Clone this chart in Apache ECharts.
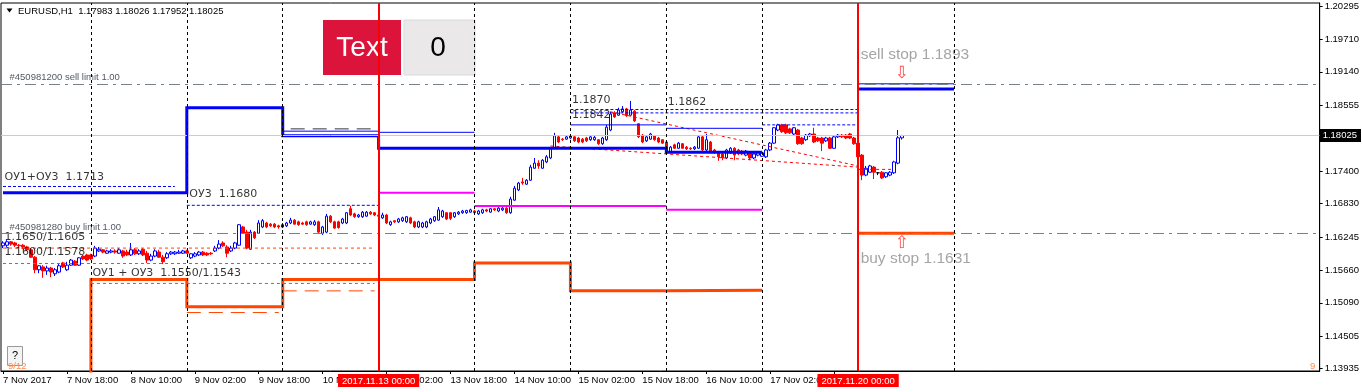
<!DOCTYPE html>
<html><head><meta charset="utf-8">
<script src="https://cdn.jsdelivr.net/npm/echarts@6/dist/echarts.min.js"></script>
<style>html,body{margin:0;padding:0;background:#fff}#c{width:1362px;height:392px}</style>
</head><body><div id="c"></div>
<script>
// ---------- DATA ----------
const BAR_SLOTS = 330; // H1 bar slots across the window (7 Nov 02:00 = 0)
const timeLabels = [[0,'7 Nov 2017'],[16,'7 Nov 18:00'],[32,'8 Nov 10:00'],[48,'9 Nov 02:00'],[64,'9 Nov 18:00'],[80,'10 Nov 10:00'],[96,'13 Nov 02:00'],[112,'13 Nov 18:00'],[128,'14 Nov 10:00'],[144,'15 Nov 02:00'],[160,'15 Nov 18:00'],[176,'16 Nov 10:00'],[192,'17 Nov 02:00'],[208,'17 Nov 18:00'],[224,'20 Nov 10:00']];
const yTicks = [1.13935,1.14505,1.15090,1.15660,1.16245,1.16830,1.17400,1.17975,1.18555,1.19140,1.19710,1.20295];
const daySeparators = [22,46,70,118,142,166,190,238];
const weekStarts = [[94,'2017.11.13 00:00'],[214,'2017.11.20 00:00']];
const bidPrice = 1.18025;
const sellLimit = 1.1893, buyLimit = 1.1631;
const dojiIndex = [219];
// [open, close, low, high]
const ohlc = [
// 7 Nov
[1.1609,1.1614,1.1605,1.1617],[1.1610,1.1616,1.1607,1.1619],[1.1616,1.1612,1.1609,1.1617],[1.1614,1.1610,1.1607,1.1616],
[1.1610,1.1609,1.1605,1.1612],[1.1610,1.1607,1.1603,1.1612],[1.1607,1.1602,1.1600,1.1609],[1.1602,1.1589,1.1588,1.1605],
[1.1589,1.1567,1.1561,1.1591],[1.1567,1.1574,1.1561,1.1575],[1.1572,1.1565,1.1553,1.1575],[1.1565,1.1570,1.1558,1.1574],
[1.1570,1.1563,1.1554,1.1572],[1.1560,1.1567,1.1556,1.1570],[1.1563,1.1574,1.1561,1.1577],[1.1579,1.1572,1.1570,1.1581],
[1.1567,1.1575,1.1565,1.1581],[1.1575,1.1584,1.1574,1.1586],[1.1582,1.1575,1.1574,1.1584],[1.1575,1.1588,1.1574,1.1589],
[1.1591,1.1586,1.1584,1.1593],[1.1593,1.1584,1.1582,1.1595],
// 8 Nov
[1.1593,1.1586,1.1584,1.1595],[1.1591,1.1605,1.1589,1.1609],[1.1600,1.1603,1.1598,1.1607],[1.1602,1.1598,1.1596,1.1603],
[1.1596,1.1600,1.1595,1.1602],[1.1598,1.1600,1.1596,1.1603],[1.1600,1.1598,1.1595,1.1603],[1.1596,1.1602,1.1595,1.1605],
[1.1600,1.1591,1.1588,1.1602],[1.1598,1.1593,1.1591,1.1602],[1.1593,1.1602,1.1591,1.1614],[1.1602,1.1595,1.1593,1.1605],
[1.1595,1.1600,1.1593,1.1603],[1.1603,1.1593,1.1591,1.1605],[1.1596,1.1584,1.1579,1.1600],[1.1584,1.1591,1.1582,1.1595],
[1.1591,1.1600,1.1589,1.1603],[1.1598,1.1589,1.1588,1.1602],[1.1589,1.1581,1.1577,1.1593],[1.1588,1.1595,1.1586,1.1598],
[1.1595,1.1598,1.1593,1.1600],[1.1595,1.1598,1.1593,1.1600],[1.1596,1.1598,1.1595,1.1602],[1.1596,1.1600,1.1595,1.1602],
// 9 Nov
[1.1600,1.1596,1.1595,1.1602],[1.1588,1.1595,1.1586,1.1596],[1.1591,1.1595,1.1589,1.1598],[1.1593,1.1598,1.1591,1.1600],
[1.1598,1.1593,1.1591,1.1600],[1.1596,1.1593,1.1591,1.1598],[1.1596,1.1595,1.1593,1.1598],[1.1600,1.1605,1.1598,1.1609],
[1.1605,1.1612,1.1603,1.1619],[1.1614,1.1609,1.1607,1.1617],[1.1607,1.1596,1.1589,1.1610],[1.1600,1.1605,1.1598,1.1609],
[1.1605,1.1614,1.1603,1.1616],[1.1610,1.1646,1.1609,1.1647],[1.1642,1.1631,1.1630,1.1644],[1.1633,1.1605,1.1603,1.1637],
[1.1603,1.1633,1.1602,1.1637],[1.1633,1.1623,1.1621,1.1635],[1.1631,1.1649,1.1630,1.1654],[1.1642,1.1653,1.1640,1.1656],
[1.1649,1.1642,1.1640,1.1651],[1.1647,1.1644,1.1642,1.1649],[1.1647,1.1642,1.1640,1.1649],[1.1644,1.1642,1.1639,1.1646],
// 10 Nov
[1.1642,1.1646,1.1640,1.1649],[1.1644,1.1649,1.1642,1.1651],[1.1649,1.1654,1.1647,1.1658],[1.1654,1.1647,1.1646,1.1656],
[1.1651,1.1646,1.1644,1.1653],[1.1649,1.1647,1.1646,1.1651],[1.1651,1.1646,1.1644,1.1653],[1.1647,1.1651,1.1646,1.1653],
[1.1646,1.1651,1.1644,1.1654],[1.1651,1.1633,1.1631,1.1653],[1.1631,1.1642,1.1628,1.1644],[1.1633,1.1661,1.1631,1.1665],
[1.1661,1.1651,1.1649,1.1663],[1.1651,1.1640,1.1639,1.1653],[1.1651,1.1641,1.1639,1.1653],[1.1649,1.1656,1.1647,1.1658],
[1.1649,1.1667,1.1647,1.1668],[1.1674,1.1663,1.1661,1.1679],[1.1665,1.1660,1.1658,1.1667],[1.1660,1.1663,1.1658,1.1665],
[1.1660,1.1668,1.1658,1.1670],[1.1661,1.1668,1.1660,1.1670],[1.1668,1.1665,1.1663,1.1670],[1.1667,1.1663,1.1661,1.1668],
// 13 Nov
[1.1663,1.1661,1.1660,1.1665],[1.1658,1.1663,1.1656,1.1667],[1.1663,1.1649,1.1647,1.1665],[1.1646,1.1651,1.1644,1.1653],
[1.1653,1.1651,1.1649,1.1654],[1.1651,1.1656,1.1649,1.1658],[1.1653,1.1658,1.1651,1.1660],[1.1651,1.1660,1.1649,1.1661],
[1.1658,1.1649,1.1647,1.1660],[1.1651,1.1642,1.1640,1.1653],[1.1642,1.1651,1.1640,1.1653],[1.1642,1.1649,1.1640,1.1651],
[1.1642,1.1651,1.1640,1.1653],[1.1649,1.1656,1.1647,1.1658],[1.1653,1.1660,1.1651,1.1661],[1.1654,1.1672,1.1653,1.1677],
[1.1660,1.1670,1.1658,1.1672],[1.1667,1.1656,1.1654,1.1668],[1.1667,1.1657,1.1654,1.1668],[1.1660,1.1667,1.1658,1.1668],
[1.1665,1.1668,1.1663,1.1670],[1.1667,1.1670,1.1665,1.1672],[1.1667,1.1671,1.1665,1.1672],[1.1668,1.1672,1.1667,1.1674],
// 14 Nov
[1.1670,1.1667,1.1665,1.1672],[1.1665,1.1670,1.1663,1.1672],[1.1667,1.1672,1.1665,1.1674],[1.1672,1.1670,1.1668,1.1674],
[1.1668,1.1674,1.1667,1.1675],[1.1674,1.1672,1.1670,1.1675],[1.1670,1.1675,1.1668,1.1677],[1.1672,1.1675,1.1670,1.1677],
[1.1675,1.1667,1.1665,1.1677],[1.1667,1.1691,1.1665,1.1695],[1.1689,1.1710,1.1688,1.1714],[1.1707,1.1719,1.1705,1.1721],
[1.1721,1.1719,1.1716,1.1728],[1.1717,1.1724,1.1716,1.1726],[1.1724,1.1747,1.1723,1.1751],[1.1745,1.1754,1.1744,1.1763],
[1.1754,1.1749,1.1744,1.1759],[1.1745,1.1759,1.1744,1.1761],[1.1756,1.1765,1.1754,1.1768],[1.1763,1.1780,1.1761,1.1782],
[1.1780,1.1802,1.1779,1.1807],[1.1800,1.1791,1.1789,1.1802],[1.1796,1.1795,1.1793,1.1798],[1.1796,1.1800,1.1795,1.1802],
// 15 Nov
[1.1798,1.1802,1.1796,1.1803],[1.1800,1.1793,1.1791,1.1802],[1.1798,1.1791,1.1789,1.1800],[1.1796,1.1791,1.1789,1.1798],
[1.1798,1.1793,1.1791,1.1800],[1.1795,1.1800,1.1793,1.1802],[1.1795,1.1799,1.1793,1.1802],[1.1795,1.1788,1.1786,1.1796],
[1.1788,1.1798,1.1786,1.1800],[1.1795,1.1817,1.1793,1.1821],[1.1812,1.1840,1.1810,1.1844],[1.1842,1.1835,1.1833,1.1845],
[1.1838,1.1847,1.1837,1.1851],[1.1844,1.1849,1.1842,1.1854],[1.1849,1.1837,1.1835,1.1851],[1.1838,1.1847,1.1837,1.1863],
[1.1845,1.1828,1.1826,1.1847],[1.1823,1.1800,1.1798,1.1824],[1.1803,1.1791,1.1789,1.1805],[1.1793,1.1800,1.1791,1.1802],
[1.1796,1.1805,1.1795,1.1807],[1.1802,1.1795,1.1793,1.1803],[1.1798,1.1791,1.1789,1.1800],[1.1795,1.1789,1.1788,1.1796],
// 16 Nov
[1.1791,1.1775,1.1773,1.1793],[1.1773,1.1782,1.1772,1.1784],[1.1786,1.1780,1.1779,1.1788],[1.1780,1.1789,1.1779,1.1791],
[1.1788,1.1780,1.1779,1.1789],[1.1782,1.1779,1.1777,1.1784],[1.1780,1.1779,1.1777,1.1782],[1.1779,1.1782,1.1777,1.1784],
[1.1780,1.1800,1.1779,1.1803],[1.1800,1.1777,1.1775,1.1802],[1.1777,1.1795,1.1775,1.1805],[1.1791,1.1773,1.1772,1.1793],
[1.1777,1.1773,1.1770,1.1779],[1.1772,1.1765,1.1758,1.1773],[1.1770,1.1763,1.1759,1.1772],[1.1763,1.1777,1.1761,1.1779],
[1.1772,1.1780,1.1770,1.1782],[1.1780,1.1768,1.1759,1.1782],[1.1777,1.1770,1.1768,1.1779],[1.1775,1.1770,1.1768,1.1777],
[1.1768,1.1775,1.1766,1.1777],[1.1772,1.1763,1.1759,1.1773],[1.1763,1.1770,1.1761,1.1772],[1.1768,1.1773,1.1766,1.1775],
// 17 Nov
[1.1766,1.1772,1.1765,1.1774],[1.1765,1.1777,1.1763,1.1779],[1.1777,1.1789,1.1775,1.1791],[1.1789,1.1816,1.1788,1.1817],
[1.1812,1.1821,1.1810,1.1823],[1.1821,1.1809,1.1807,1.1823],[1.1821,1.1807,1.1805,1.1823],[1.1814,1.1807,1.1805,1.1816],
[1.1805,1.1816,1.1803,1.1817],[1.1812,1.1788,1.1786,1.1814],[1.1798,1.1788,1.1786,1.1800],[1.1795,1.1803,1.1793,1.1805],
[1.1802,1.1805,1.1800,1.1807],[1.1805,1.1791,1.1789,1.1816],[1.1798,1.1793,1.1791,1.1800],[1.1798,1.1789,1.1775,1.1800],
[1.1793,1.1798,1.1791,1.1800],[1.1798,1.1780,1.1779,1.1800],[1.1780,1.1800,1.1779,1.1802],[1.1800,1.1803,1.1798,1.1805],
[1.1803,1.1800,1.1798,1.1805],[1.1803,1.1798,1.1796,1.1805],[1.1805,1.1798,1.1796,1.1807],[1.1798,1.1788,1.1786,1.1800],
// 20 Nov
[1.1789,1.1765,1.1763,1.1791],[1.1768,1.1733,1.1724,1.1770],[1.1733,1.1745,1.1731,1.1749],[1.1738,1.1749,1.1737,1.1751],
[1.1747,1.1738,1.1726,1.1749],[1.1737,1.1737,1.1733,1.1738],[1.1738,1.1728,1.1726,1.1740],[1.1730,1.1737,1.1728,1.1738],
[1.1733,1.1738,1.1731,1.1740],[1.1737,1.1756,1.1735,1.1758],[1.1754,1.17983,1.1752,1.1812],[1.17983,1.18025,1.17952,1.18026]
];
// level lines: [bar index, price]
const blueLevel = [[0,1.1702],[46,1.1702],[46,1.1851],[70,1.1851],[70,1.1802],[94,1.1802],[94,1.1780],[166,1.1780],[166,1.1773],[190,1.1773]];
const blueLevel20 = [[214,1.1884],[238,1.1884]];
const orangeLevel = [[22,1.1380],[22,1.1550],[46,1.1550],[46,1.1502],[70,1.1502],[70,1.1550],[118,1.1550],[118,1.1579],[142,1.1579],[142,1.1530],[166,1.1530],[166,1.1531],[190,1.1531]];
const orangeLevel20 = [[214,1.1631],[238,1.1631]];
const magentaLevels = [[[94,1.1702],[118,1.1702]],[[118,1.1679],[166,1.1679]],[[166,1.1672],[190,1.1672]]];
const blueThin = [[[70,1.1810],[94,1.1810]],[[94,1.1808],[118,1.1808]],[[142,1.1821],[166,1.1821]],[[166,1.1815],[190,1.1815]],[[214,1.1893],[238,1.1893]]];
const blueDashed = [[[0,1.1713],[43,1.1713]],[[46,1.1680],[94,1.1680]],[[142,1.1848],[214,1.1848]],[[142,1.1842],[214,1.1842]],[[190,1.1821],[214,1.1821]]];
const orangeDashed = [[[0,1.1605],[93,1.1605]],[[0,1.1578],[93,1.1578]],[[22,1.1543],[93,1.1543]]];
const orangeLongDash = [[[46,1.1492],[69,1.1492]],[[70,1.1530],[93,1.1530]]];
const darkLongDash = [[[72,1.1814],[93,1.1814]]];
const redTrend = [[[152,1.1844],[214,1.1749]],[[137,1.1784],[214,1.1747]],[[214,1.1743],[223,1.1743]]];
// text objects: [text, bar index, price]
const chartNotes = [['ОУ1+ОУ3  1.1713',0,1.1713],['ОУ3  1.1680',46,1.1680],['1.1650/1.1605',0,1.1605],['1.1600/1.1578',0,1.1578],['ОУ1 + ОУ3  1.1550/1.1543',22,1.1543],['1.1870',142,1.1870],['1.1842',142,1.1842],['1.1862',166,1.1862]];
const orderNotes = [['#450981200 sell limit 1.00',0,1.1893],['#450981280 buy limit 1.00',0,1.1631]];
const stopNotes = [['sell stop 1.1893',214,1.1893],['buy stop 1.1631',214,1.1631]];
const stopArrows = [['⇩',214,1.1893],['⇧',214,1.1631]];
const titleText = 'EURUSD,H1  1.17983 1.18026 1.17952 1.18025';

// ---------- STYLE ----------
const noteOffsets = [[1,-9.6],[2,-10.8],[1,-10.6],[1,-11],[1,-10.5],[1,3],[1,2.2],[1,0.7]];
const orderOffsets = [[6,-6.3],[6,-6]];
const stopOffsets = [[2,-29.5],[2,25.5]];
const arrowOffsets = [[36,-10],[36,10]];
const AX_FONT = 'Liberation Sans';

const cats = Array.from({length: BAR_SLOTS}, (_, i) => String(i));
const labelMap = new Map(timeLabels);

function lineSer(data, color, width, type, z) {
  return {type:'line', data, symbol:'none', showSymbol:false, silent:true, animation:false, clip:true,
    lineStyle:{color, width, type: type || 'solid', join:'miter', cap:'butt'}, z: z || 3};
}
function textSer(list, offsets, font, size, color, z) {
  return {type:'scatter', silent:true, animation:false, symbolSize:1, z: z || 4,
    itemStyle:{color:'transparent'},
    data: list.map((d, k) => ({value:[d[1], d[2]], name:d[0], label:{offset: offsets[k]}})),
    label:{show:true, position:'right', distance:0, formatter: p => p.name, fontFamily: font, fontSize: size, color}};
}

const series = [];
series.push({type:'line', data:[], silent:true, z:1,
  markLine:{silent:true, symbol:['none','none'], animation:false, precision:5,
    data:[{yAxis: bidPrice, lineStyle:{color:'#C8CCD2', width:1, type:'solid'},
      label:{show:true, position:'end', distance:0, formatter: bidPrice.toFixed(5), backgroundColor:'#000', color:'#fff', padding:[2,4,1,3], fontFamily:AX_FONT, fontSize:9.5}}]}});
series.push({type:'candlestick', data: ohlc.map((r, i) => dojiIndex.includes(i) ? {value:r, itemStyle:{borderColor:'#000', borderColorDoji:'#000', color:'#000'}} : r),
  barWidth:3, silent:true, animation:false, z:2,
  itemStyle:{color:'#FFFFFF', color0:'#FF0000', borderColor:'#0000FF', borderColor0:'#FF0000', borderColorDoji:'#FF0000', borderWidth:1}});
series.push({type:'line', data:[], silent:true, z:3,
  markLine:{silent:true, symbol:['none','none'], animation:false, precision:5, label:{show:false},
    data:[
      ...daySeparators.map(i => ({xAxis:String(i), lineStyle:{color:'#000', width:1, type:[3,3]}})),
      {yAxis: sellLimit, lineStyle:{color:'#77818E', width:1, type:[11,5,3,5]}},
      {yAxis: buyLimit, lineStyle:{color:'#77818E', width:1, type:[11,5,3,5]}}
    ]}});
orangeDashed.forEach(d => series.push(lineSer(d, '#FF4500', 1, [3,3])));
orangeLongDash.forEach(d => series.push(lineSer(d, '#FF4500', 1, [14,8])));
darkLongDash.forEach(d => series.push(lineSer(d, '#333', 1, [14,8])));
blueDashed.forEach(d => series.push(lineSer(d, '#0000FF', 1, [3,2])));
redTrend.forEach(d => series.push(lineSer(d, '#FF0000', 1, [3,3])));
blueThin.forEach(d => series.push(lineSer(d, '#0000FF', 1)));
magentaLevels.forEach(d => series.push(lineSer(d, '#FF00FF', 2)));
series.push(lineSer(orangeLevel, '#FF4500', 3));
series.push(lineSer(orangeLevel20, '#FF4500', 3));
series.push(lineSer(blueLevel, '#0000FF', 3));
series.push(lineSer(blueLevel20, '#0000FF', 3));
series.push(textSer(chartNotes, noteOffsets, 'DejaVu Sans', 11, '#000'));
series.push(textSer(orderNotes, orderOffsets, AX_FONT, 9.5, '#1F2733'));
series.push(textSer(stopNotes, stopOffsets, AX_FONT, 15.5, '#8F8F8F'));
series.push(textSer(stopArrows, arrowOffsets, 'DejaVu Sans', 17, '#FF2020'));
series.push({type:'line', data:[], silent:true, z:6,
  markLine:{silent:true, symbol:['none','none'], animation:false, precision:5,
    data: weekStarts.map(w => ({xAxis:String(w[0]), lineStyle:{color:'#FF0000', width:2, type:'solid'},
      label:{show:true, position:'start', distance:3, formatter:w[1], backgroundColor:'#FF0000', color:'#fff', padding:[2,4,1,4], fontFamily:AX_FONT, fontSize:9.5}}))}});

const chart = echarts.init(document.getElementById('c'), null, {renderer:'canvas'});
chart.setOption({
  animation:false,
  backgroundColor:'#FFFFFF',
  grid:{left:1, right:41, top:3, bottom:21, show:true, borderColor:'#000', borderWidth:1, backgroundColor:'transparent'},
  xAxis:{type:'category', data:cats, boundaryGap:true,
    axisLine:{show:true, lineStyle:{color:'#000', width:1}},
    axisTick:{show:true, alignWithLabel:true, length:3, interval:(i) => labelMap.has(i), lineStyle:{color:'#000'}},
    axisLabel:{show:true, interval:(i) => labelMap.has(i), formatter:(v, i) => labelMap.get(Number(v)) || '', align:'left', margin:4,
      fontFamily:AX_FONT, fontSize:9.5, color:'#000', showMinLabel:true, showMaxLabel:false},
    splitLine:{show:false}},
  yAxis:{type:'value', position:'right', min:1.13895, max:1.20347,
    axisLine:{show:true, lineStyle:{color:'#000', width:1}},
    axisTick:{show:true, length:3, customValues:yTicks, lineStyle:{color:'#000'}},
    axisLabel:{show:true, customValues:yTicks, formatter:(v) => Number(v).toFixed(5), margin:5, fontFamily:AX_FONT, fontSize:9.5, color:'#000'},
    splitLine:{show:false}},
  graphic:[
    {type:'polygon', z:0, shape:{points:[[6.5,8.5],[12.5,8.5],[9.5,12.5]]}, style:{fill:'#000'}},
    {type:'text', z:0, x:18, y:11, style:{text:titleText, fill:'#000', font:'9.5px "Liberation Sans"', verticalAlign:'middle'}},
    {type:'rect', z:0, shape:{x:323, y:20, width:78, height:55}, style:{fill:'#DC143C'}},
    {type:'text', z:0, x:362, y:48, style:{text:'Text', fill:'#fff', font:'28px "Liberation Sans"', align:'center', verticalAlign:'middle'}},
    {type:'rect', z:0, shape:{x:404, y:20, width:71, height:55}, style:{fill:'#EAE8E8', stroke:'#DADADA', lineWidth:1}},
    {type:'text', z:0, x:438, y:48, style:{text:'0', fill:'#000', font:'28px "Liberation Sans"', align:'center', verticalAlign:'middle'}},
    {type:'rect', z:0, shape:{x:7.5, y:346.5, width:15, height:19}, style:{fill:'#F4F4F4', stroke:'#9A9A9A', lineWidth:1}},
    {type:'text', z:0, x:15, y:356, style:{text:'?', fill:'#000', font:'11px "Liberation Sans"', align:'center', verticalAlign:'middle'}},
    {type:'text', z:0, x:8, y:366, style:{text:'9/12', fill:'#FF8A50', font:'9.5px "Liberation Sans"', verticalAlign:'middle'}},
    {type:'text', z:0, x:1310, y:366, style:{text:'9', fill:'#FF8A50', font:'9.5px "Liberation Sans"', verticalAlign:'middle'}}
  ],
  series
});
</script></body></html>
